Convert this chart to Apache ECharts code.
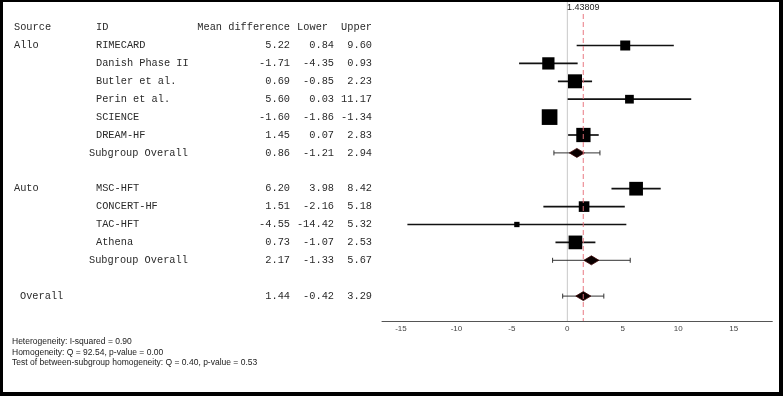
<!DOCTYPE html>
<html>
<head>
<meta charset="utf-8">
<script src="https://cdn.jsdelivr.net/npm/echarts@6/dist/echarts.min.js"></script>
<style>
html,body{margin:0;padding:0;background:#fff;}
#chart{width:783px;height:396px;}
</style>
</head>
<body>
<div id="chart"></div>
<script>
// ---------- data ----------
const studyIds = ['RIMECARD','Danish Phase II','Butler et al.','Perin et al.','SCIENCE','DREAM-HF','MSC-HFT','CONCERT-HF','TAC-HFT','Athena'];
const studySource = ['Allo','Allo','Allo','Allo','Allo','Allo','Auto','Auto','Auto','Auto'];
const meanDiff = [5.22,-1.71,0.69,5.60,-1.60,1.45,6.20,1.51,-4.55,0.73];
const lowerCI  = [0.84,-4.35,-0.85,0.03,-1.86,0.07,3.98,-2.16,-14.42,-1.07];
const upperCI  = [9.60,0.93,2.23,11.17,-1.34,2.83,8.42,5.18,5.32,2.53];
const weights  = [6.7,10.1,13.1,5.1,16.5,13.7,12.6,7.6,1.9,12.6];
const groups = ['Allo','Auto'];
const subMean  = [0.86,2.17];
const subLower = [-1.21,-1.33];
const subUpper = [2.94,5.67];
const overallMean = 1.44, overallLower = -0.42, overallUpper = 3.29;
const overallExact = 1.43809;
const xTicks = [-15,-10,-5,0,5,10,15];
const headers = ['Source','ID','Mean difference','Lower','Upper'];
const footnotes = [
  'Heterogeneity: I-squared = 0.90',
  'Homogeneity: Q = 92.54, p-value = 0.00',
  'Test of between-subgroup homogeneity: Q = 0.40, p-value = 0.53'
];

// ---------- layout ----------
const ROW0 = 27.6, ROWH = 17.9, GTOP = 2, GBOT = 321;
const yMin = (GTOP - ROW0) / ROWH, yMax = (GBOT - ROW0) / ROWH;
const X_MIN = -16.71, X_MAX = 18.48;
const COL = {source:14, id:96, sub:89, overall:20, mean:290, lowerH:328, lower:334, upper:372};

// rows
let r = 1;
const studyRow = [], subRow = [];
groups.forEach((g, gi) => {
  studySource.forEach((s, i) => { if (s === g) studyRow[i] = r++; });
  subRow[gi] = r++;
  r++;
});
const overallRow = r;

const f2 = v => v.toFixed(2);
const textItems = [];
textItems.push([COL.source, 0, headers[0], 'left']);
textItems.push([COL.id, 0, headers[1], 'left']);
textItems.push([COL.mean, 0, headers[2], 'right']);
textItems.push([COL.lowerH, 0, headers[3], 'right']);
textItems.push([COL.upper, 0, headers[4], 'right']);
groups.forEach((g, gi) => {
  const first = studySource.indexOf(g);
  textItems.push([COL.source, studyRow[first], g, 'left']);
});
studyIds.forEach((id, i) => {
  const row = studyRow[i];
  textItems.push([COL.id, row, id, 'left']);
  textItems.push([COL.mean, row, f2(meanDiff[i]), 'right']);
  textItems.push([COL.lower, row, f2(lowerCI[i]), 'right']);
  textItems.push([COL.upper, row, f2(upperCI[i]), 'right']);
});
groups.forEach((g, gi) => {
  const row = subRow[gi];
  textItems.push([COL.sub, row, 'Subgroup Overall', 'left']);
  textItems.push([COL.mean, row, f2(subMean[gi]), 'right']);
  textItems.push([COL.lower, row, f2(subLower[gi]), 'right']);
  textItems.push([COL.upper, row, f2(subUpper[gi]), 'right']);
});
textItems.push([COL.overall, overallRow, 'Overall', 'left']);
textItems.push([COL.mean, overallRow, f2(overallMean), 'right']);
textItems.push([COL.lower, overallRow, f2(overallLower), 'right']);
textItems.push([COL.upper, overallRow, f2(overallUpper), 'right']);

const studyCI = studyIds.map((_, i) => [lowerCI[i], upperCI[i], studyRow[i]]);
const studyPts = studyIds.map((_, i) => [meanDiff[i], studyRow[i], weights[i]]);
const pooled = groups.map((g, gi) => [subMean[gi], subLower[gi], subUpper[gi], subRow[gi]]);
pooled.push([overallMean, overallLower, overallUpper, overallRow]);

const chart = echarts.init(document.getElementById('chart'), null, {renderer:'canvas'});
const monoFont = '10.3px "Liberation Mono", "DejaVu Sans Mono", monospace';
const RED_TOP = 14;

chart.setOption({
  animation: false,
  backgroundColor: '#fff',
  grid: [
    {left: 382, right: 10.7, top: GTOP, bottom: 396 - GBOT},
    {left: 0, width: 380, top: GTOP, bottom: 396 - GBOT}
  ],
  xAxis: [
    {type:'value', gridIndex:0, min:X_MIN, max:X_MAX,
     axisLine:{show:true, onZero:false, lineStyle:{color:'#555', width:1}},
     axisTick:{show:false}, splitLine:{show:false},
     axisLabel:{show:true, customValues:xTicks, color:'#444', fontSize:8, fontFamily:'Liberation Sans', margin:4}},
    {type:'value', gridIndex:1, min:0, max:380, show:false}
  ],
  yAxis: [
    {type:'value', gridIndex:0, min:yMin, max:yMax, inverse:true, show:false},
    {type:'value', gridIndex:1, min:yMin, max:yMax, inverse:true, show:false}
  ],
  series: [
    { // zero line (underneath marks)
      type:'custom', xAxisIndex:0, yAxisIndex:0, data:[[0]], silent:true, z:1, clip:false,
      renderItem:(params, api) => {
        const x = api.coord([api.value(0), 0])[0];
        return {type:'line', shape:{x1:x, y1:GTOP, x2:x, y2:GBOT}, style:{stroke:'#c8c8c8', lineWidth:1}};
      }
    },
    { // study CI lines
      type:'custom', xAxisIndex:0, yAxisIndex:0, data:studyCI, silent:true, z:2,
      renderItem:(params, api) => {
        const a = api.coord([api.value(0), api.value(2)]);
        const b = api.coord([api.value(1), api.value(2)]);
        return {type:'line', shape:{x1:a[0], y1:a[1], x2:b[0], y2:b[1]}, style:{stroke:'#111', lineWidth:1.7}};
      }
    },
    { // study squares
      type:'scatter', xAxisIndex:0, yAxisIndex:0, data:studyPts, symbol:'rect',
      symbolSize:(v) => 3.86 * Math.sqrt(v[2]),
      itemStyle:{color:'#000', opacity:1}, silent:true, z:3
    },
    { // pooled estimates
      type:'custom', xAxisIndex:0, yAxisIndex:0, data:pooled, silent:true, z:4,
      renderItem:(params, api) => {
        const row = api.value(3);
        const c = api.coord([api.value(0), row]);
        const l = api.coord([api.value(1), row]);
        const u = api.coord([api.value(2), row]);
        const cap = 2.5, hw = 7.5, hh = 4.5;
        const st = {stroke:'#333', lineWidth:1};
        return {type:'group', children:[
          {type:'line', shape:{x1:l[0], y1:l[1], x2:u[0], y2:u[1]}, style:st},
          {type:'line', shape:{x1:l[0], y1:l[1]-cap, x2:l[0], y2:l[1]+cap}, style:st},
          {type:'line', shape:{x1:u[0], y1:u[1]-cap, x2:u[0], y2:u[1]+cap}, style:st},
          {type:'polygon', shape:{points:[[c[0]-hw,c[1]],[c[0],c[1]-hh],[c[0]+hw,c[1]],[c[0],c[1]+hh]]},
           style:{fill:'#0a0000', stroke:'#3a0000', lineWidth:0.8}}
        ]};
      }
    },
    { // overall reference line (on top, as in reference)
      type:'custom', xAxisIndex:0, yAxisIndex:0, data:[[overallExact]], silent:true, z:6, clip:false,
      renderItem:(params, api) => {
        const x = api.coord([api.value(0), 0])[0];
        return {type:'group', children:[
          {type:'line', shape:{x1:x, y1:RED_TOP, x2:x, y2:GBOT}, style:{stroke:'#e8707a', lineWidth:1.1, lineDash:[5,3], opacity:0.85}},
          {type:'text', x:x, y:7.5, style:{text:String(overallExact), align:'center', verticalAlign:'middle',
            font:'9px "Liberation Sans", Arial, sans-serif', fill:'#222'}}
        ]};
      }
    },
    { // table text
      type:'custom', xAxisIndex:1, yAxisIndex:1, data:textItems.map(t => [t[0], t[1]]), silent:true,
      renderItem:(params, api) => {
        const p = api.coord([api.value(0), api.value(1)]);
        const t = textItems[params.dataIndex];
        return {type:'text', x:p[0], y:p[1], style:{text:t[2], align:t[3], verticalAlign:'middle', font:monoFont, fill:'#2a2a2a'}};
      }
    }
  ],
  graphic: [
    ...footnotes.map((t, i) => ({
      type:'text', left:12, top:337.5 + i*10.3,
      style:{text:t, font:'8.5px "Liberation Sans", Arial, sans-serif', fill:'#1a1a1a'}
    })),
    {type:'rect', shape:{x:0, y:0, width:3, height:396}, style:{fill:'#000'}, z:100},
    {type:'rect', shape:{x:0, y:0, width:783, height:2}, style:{fill:'#000'}, z:100},
    {type:'rect', shape:{x:779, y:0, width:4, height:396}, style:{fill:'#000'}, z:100},
    {type:'rect', shape:{x:0, y:392, width:783, height:4}, style:{fill:'#000'}, z:100}
  ]
});
</script>
</body>
</html>
